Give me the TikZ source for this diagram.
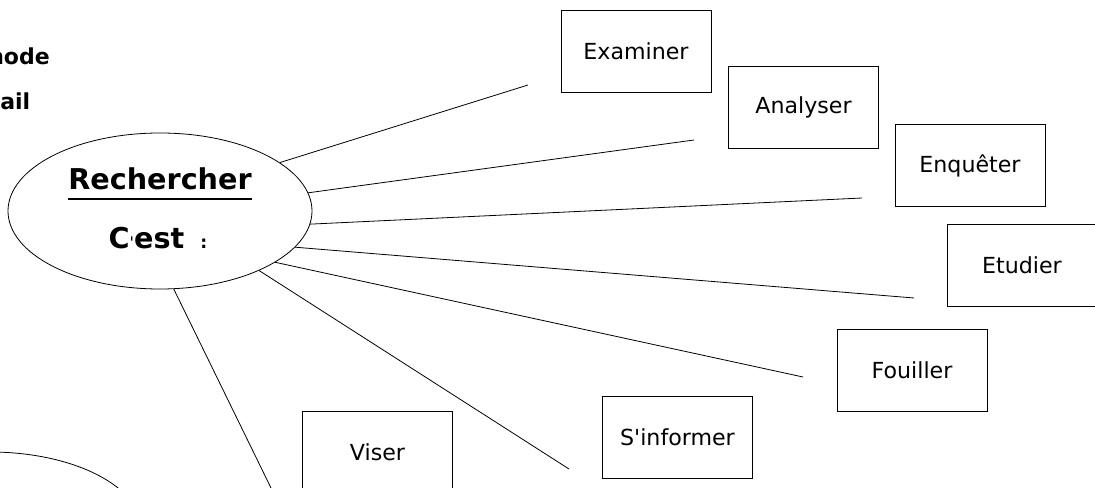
\documentclass[tikz,border=0pt]{standalone}
\usepackage{fontspec}
\setmainfont{DejaVu Sans}
\usetikzlibrary{shapes,positioning}

\begin{document}
\begin{tikzpicture}[
    x=0.75pt, y=-0.75pt,
    mot/.style={rectangle, draw, line width=0.6pt, minimum width=112.5pt, minimum height=61.5pt, inner sep=0pt, font=\fontsize{16.6}{20}\selectfont},
    bulle/.style={ellipse, draw, line width=0.6pt, minimum width=228pt, minimum height=117pt, inner sep=0pt},
    titre/.style={font=\bfseries\fontsize{21.5}{25}\selectfont, inner sep=0pt},
    marge/.style={font=\bfseries\fontsize{16.5}{20}\selectfont, inner sep=0pt, anchor=base west},
    trait/.style={line width=0.6pt}
]
\useasboundingbox (0,0) rectangle (1095,488);

% Bulles
\node[bulle] (rech) at (160,211) {};
\node[bulle] (suite) at (-10,530) {};

% Texte de la bulle
\node[titre, anchor=base] (rtitre) at (160,190) {Rechercher};
\draw[line width=1.4pt] ([yshift=-6.8pt]rtitre.base west) -- ([yshift=-6.8pt]rtitre.base east);
\node[titre, anchor=base] (cest) at (158,248) {C{\mdseries\fontsize{12}{12}\selectfont\textquotesingle}est {\fontsize{13}{13}\selectfont\ :}};

% Marge
\node[marge] (methode) at (-12,65) {hode};
\node[marge] (travail) at (0,110) {ail};

% Mots
\node[mot] (examiner) at (636,51.5) {Examiner};
\node[mot] (analyser) at (803.5,107) {Analyser};
\node[mot] (enqueter) at (970,165.5) {Enquêter};
\node[mot] (etudier) at (1022,265.5) {Etudier};
\node[mot] (fouiller) at (912,370) {Fouiller};
\node[mot] (sinformer) at (677.5,437) {S\textquotesingle informer};
\node[mot] (viser) at (377.5,452) {Viser};

% Traits
\coordinate (pexaminer) at (528,85);
\coordinate (panalyser) at (694,140);
\coordinate (penqueter) at (862,198);
\coordinate (petudier) at (914,298);
\coordinate (pfouiller) at (803,377);
\coordinate (psinformer) at (569,469);
\coordinate (pviser) at (272,490);

\draw[trait] (rech.22) -- (pexaminer);
\draw[trait] (rech.7) -- (panalyser);
\draw[trait] (rech.-5) -- (penqueter);
\draw[trait] (rech.-15) -- (petudier);
\draw[trait] (rech.-24) -- (pfouiller);
\draw[trait] (rech.-31) -- (psinformer);
\draw[trait] (rech.-80) -- (pviser);

\end{tikzpicture}
\end{document}
